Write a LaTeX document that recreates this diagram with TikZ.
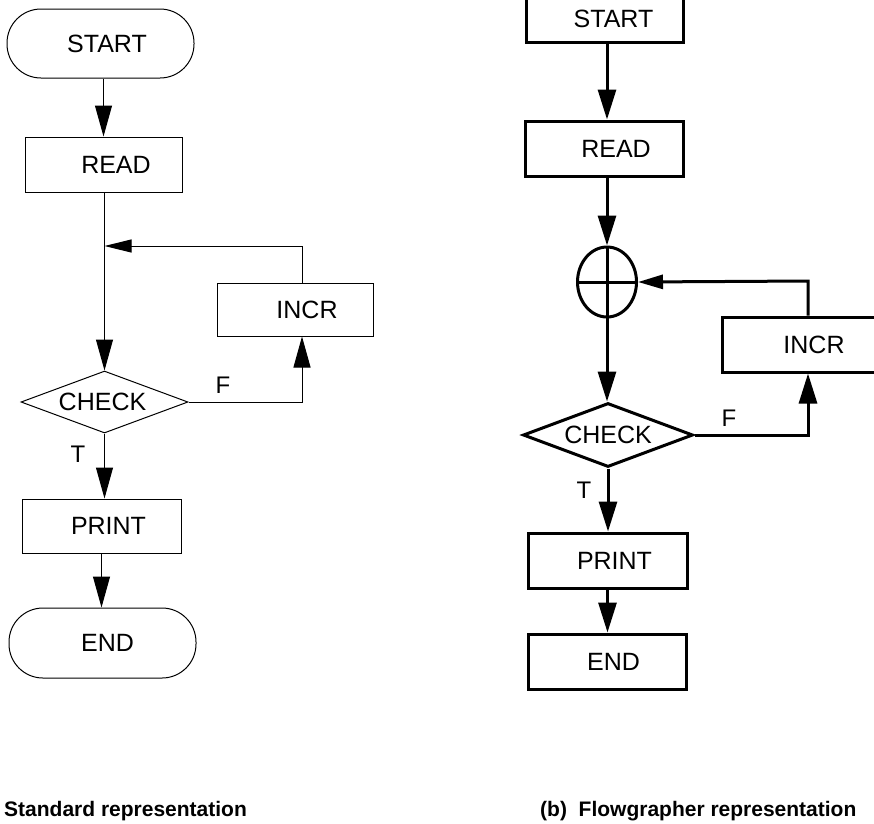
\documentclass[tikz,border=0pt]{standalone}
\usepackage{fontspec}
\setmainfont{Liberation Sans}
\usetikzlibrary{arrows.meta,shapes.geometric}
\begin{document}
\begin{tikzpicture}[x=1pt,y=-1pt,
  every node/.style={font=\fontsize{25}{30}\selectfont, inner sep=0pt},
  thinpart/.style={line width=1pt},
  thickpart/.style={line width=3pt},
  boxn/.style={draw, rectangle},
  termn/.style={draw, rectangle, rounded corners=34pt},
  decn/.style={draw, diamond, aspect=2.7},
  tipL/.style={-{Triangle[length=31pt,width=17pt]}},
  looptipL/.style={-{Triangle[length=27pt,width=13pt]}},
  tipR/.style={-{Triangle[length=30pt,width=18pt]}},
  looptipR/.style={-{Triangle[length=25pt,width=14pt]}},
  branch/.style={font=\fontsize{24}{28}\selectfont},
  caption/.style={font=\bfseries\fontsize{21}{25}\selectfont, anchor=base west}
]
\useasboundingbox (0,0) rectangle (874,823);
\clip (0,0) rectangle (874,823);

% ---------- (a) standard flowchart ----------
\node[termn, thinpart, minimum width=187pt, minimum height=69pt] (startL) at (100.5,43.5) {\hspace*{13pt}START};
\node[boxn, thinpart, minimum width=157pt, minimum height=55pt] (readL) at (103.5,164.5) {\hspace*{25pt}READ};
\node[boxn, thinpart, minimum width=156pt, minimum height=53pt] (incrL) at (295,309.5) {\hspace*{24pt}INCR};
\node[decn, thinpart, minimum width=167pt, minimum height=62pt] (checkL) at (104.5,402) {CHECK\hspace*{4pt}};
\node[boxn, thinpart, minimum width=159pt, minimum height=54pt] (printL) at (101.5,526) {\hspace*{14pt}PRINT};
\node[termn, thinpart, minimum width=187pt, minimum height=70pt] (endL) at (102.5,643) {\hspace*{10pt}END};

\coordinate (loopL) at (302,246);
\draw[thinpart,tipL] (startL.south -| readL.north) -- (readL.north);
\draw[thinpart,tipL] (readL.south -| checkL.north) -- (checkL.north);
\draw[thinpart,looptipL] (incrL.north -| loopL) -- (loopL) -- (checkL.north |- loopL);
\draw[thinpart,tipL] (checkL.east) -| (incrL.south -| loopL);
\node[branch] (fL) at (223,385) {F};
\draw[thinpart,tipL] (checkL.south) -- (checkL.south |- printL.north);
\node[branch] (tL) at (78,454) {T};
\draw[thinpart,tipL] (printL.south) -- (printL.south |- endL.north);

% ---------- (b) flowgrapher ----------
\node[boxn, thickpart, minimum width=157pt, minimum height=46pt] (startR) at (604.5,19) {\hspace*{18pt}START};
\node[boxn, thickpart, minimum width=158pt, minimum height=55pt] (readR) at (604,148.5) {\hspace*{24pt}READ};
\node[draw, ellipse, thickpart, minimum width=59pt, minimum height=70pt] (joinR) at (607,282) {};
\draw[thickpart] (joinR.north) -- (joinR.south) (joinR.west) -- (joinR.east);
\node[boxn, thickpart, minimum width=178pt, minimum height=55pt] (incrR) at (811,344.5) {\hspace*{6pt}INCR};
\node[decn, thickpart, minimum width=170pt, minimum height=64pt] (checkR) at (608,435) {CHECK};
\node[boxn, thickpart, minimum width=159pt, minimum height=55pt] (printR) at (607.5,560.5) {\hspace*{14pt}PRINT};
\node[boxn, thickpart, minimum width=158pt, minimum height=55pt] (endR) at (607,661.5) {\hspace*{13pt}END};

\coordinate (loopR) at (808,281);
\draw[thickpart,tipR] (startR.south -| joinR.north) -- (readR.north -| joinR.north);
\draw[thickpart,tipR] (readR.south -| joinR.north) -- (joinR.north);
\draw[thickpart,tipR] (joinR.south) -- (joinR.south |- checkR.north);
\draw[thickpart,looptipR] (incrR.north -| loopR) -- (loopR) -- (joinR.east);
\draw[thickpart,tipR] (checkR.east) -| (incrR.south -| loopR);
\node[branch] (fR) at (729,418) {F};
\draw[thickpart,tipR] (checkR.south) -- (checkR.south |- printR.north);
\node[branch] (tR) at (584,490) {T};
\draw[thickpart,tipR] (printR.south) -- (endR.north -| printR.south);

% ---------- captions ----------
\node[caption] (capA) at (4,816) {Standard representation};
\node[caption] (capB) at (540,816) {(b)\ \ Flowgrapher representation};
\end{tikzpicture}
\end{document}
